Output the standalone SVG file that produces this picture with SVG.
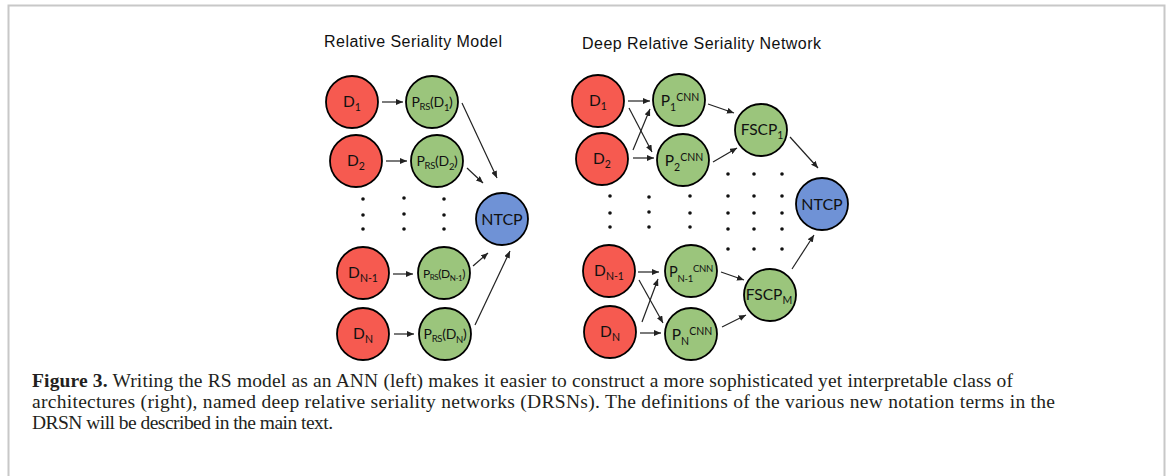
<svg xmlns="http://www.w3.org/2000/svg" width="1168" height="476" viewBox="0 0 1168 476">
<style>
  .frame{stroke:#c8c8c8;stroke-width:2;fill:none}
  .title{font-family:"Liberation Sans",Arial,sans-serif;font-size:16px;fill:#111}
  .node{stroke:#000;stroke-width:1.8}
  .red{fill:#f65a50}
  .green{fill:#9bc57c}
  .blue{fill:#6f92d6}
  .lbl{font-family:Lato,"Open Sans",sans-serif;font-size:15.5px;fill:#111;text-anchor:middle}
  .p{font-size:14px;letter-spacing:-0.3px}
  .s{font-size:10.5px}
  .ss{font-size:9.5px}
  .conn line{stroke:#222;stroke-width:1.2;marker-end:url(#ah)}
  .dot{fill:#111}
  .cap{font-family:"Liberation Serif","Times New Roman",serif;font-size:19.5px;fill:#231f20}
</style>
<defs>
  <marker id="ah" markerUnits="userSpaceOnUse" markerWidth="7" markerHeight="6" refX="7" refY="3" orient="auto">
    <path d="M0,0 L7,3 L0,6 z" fill="#222"/>
  </marker>
</defs>
<rect width="1168" height="476" fill="#fff"/>
<path class="frame" d="M8.5,476 V5.5 H1164.5 V476"/>

<text class="title" x="324" y="47" textLength="178" lengthAdjust="spacing">Relative Seriality Model</text>
<text class="title" x="582" y="49" textLength="239" lengthAdjust="spacing">Deep Relative Seriality Network</text>

<!-- Left panel -->
<g id="L_D1"><circle class="node red" cx="352" cy="102" r="26"/><text class="lbl" x="352" y="107"><tspan>D</tspan><tspan class="s" dy="4">1</tspan></text></g>
<g id="L_D2"><circle class="node red" cx="356" cy="161" r="26"/><text class="lbl" x="356" y="166"><tspan>D</tspan><tspan class="s" dy="4">2</tspan></text></g>
<g id="L_DN1"><circle class="node red" cx="363" cy="273" r="26"/><text class="lbl" x="363" y="278"><tspan>D</tspan><tspan class="s" dy="4">N-1</tspan></text></g>
<g id="L_DN"><circle class="node red" cx="363" cy="334" r="26"/><text class="lbl" x="363" y="339"><tspan>D</tspan><tspan class="s" dy="4">N</tspan></text></g>

<g id="L_P1"><circle class="node green" cx="432" cy="102" r="26"/><text class="lbl p" x="432" y="107"><tspan>P</tspan><tspan class="ss" dy="3">RS</tspan><tspan dy="-3">(D</tspan><tspan class="ss" dy="4">1</tspan><tspan dy="-4">)</tspan></text></g>
<g id="L_P2"><circle class="node green" cx="437" cy="161" r="26"/><text class="lbl p" x="437" y="166"><tspan>P</tspan><tspan class="ss" dy="3">RS</tspan><tspan dy="-3">(D</tspan><tspan class="ss" dy="4">2</tspan><tspan dy="-4">)</tspan></text></g>
<g id="L_PN1"><circle class="node green" cx="444" cy="273" r="26"/><text class="lbl p" x="444" y="278" style="font-size:12px;letter-spacing:-0.4px"><tspan>P</tspan><tspan dy="2" style="font-size:8px">RS</tspan><tspan dy="-2">(D</tspan><tspan dy="3" style="font-size:8px">N-1</tspan><tspan dy="-3">)</tspan></text></g>
<g id="L_PN"><circle class="node green" cx="445" cy="334" r="26"/><text class="lbl p" x="445" y="339"><tspan>P</tspan><tspan class="ss" dy="3">RS</tspan><tspan dy="-3">(D</tspan><tspan class="ss" dy="4">N</tspan><tspan dy="-4">)</tspan></text></g>

<g id="L_NTCP"><circle class="node blue" cx="502" cy="219" r="26"/><text class="lbl" x="502" y="225" style="font-size:16px">NTCP</text></g>

<g id="L_dots">
  <circle class="dot" cx="363" cy="199" r="1.8"/><circle class="dot" cx="363" cy="215" r="1.8"/><circle class="dot" cx="363" cy="229" r="1.8"/>
  <circle class="dot" cx="404" cy="198" r="1.8"/><circle class="dot" cx="404" cy="214" r="1.8"/><circle class="dot" cx="404" cy="229" r="1.8"/>
  <circle class="dot" cx="444" cy="199" r="1.8"/><circle class="dot" cx="444" cy="215" r="1.8"/><circle class="dot" cx="444" cy="229" r="1.8"/>
</g>

<!-- Right panel -->
<g id="R_D1"><circle class="node red" cx="598" cy="101" r="26"/><text class="lbl" x="598" y="106"><tspan>D</tspan><tspan class="s" dy="4">1</tspan></text></g>
<g id="R_D2"><circle class="node red" cx="602" cy="159" r="26"/><text class="lbl" x="602" y="164"><tspan>D</tspan><tspan class="s" dy="4">2</tspan></text></g>
<g id="R_DN1"><circle class="node red" cx="609" cy="271" r="26"/><text class="lbl" x="609" y="276"><tspan>D</tspan><tspan class="s" dy="4">N-1</tspan></text></g>
<g id="R_DN"><circle class="node red" cx="610" cy="332" r="26"/><text class="lbl" x="610" y="337"><tspan>D</tspan><tspan class="s" dy="4">N</tspan></text></g>

<g id="R_P1"><circle class="node green" cx="679" cy="100" r="26"/><text class="lbl" x="680" y="106"><tspan>P</tspan><tspan class="s" dy="5">1</tspan><tspan class="s" dy="-10">CNN</tspan></text></g>
<g id="R_P2"><circle class="node green" cx="683" cy="160" r="26"/><text class="lbl" x="684" y="166"><tspan>P</tspan><tspan class="s" dy="5">2</tspan><tspan class="s" dy="-10">CNN</tspan></text></g>
<g id="R_PN1"><circle class="node green" cx="691" cy="271" r="26"/><text class="lbl" x="691" y="277" style="font-size:14.5px;letter-spacing:-0.3px"><tspan>P</tspan><tspan dy="5" style="font-size:9.5px">N-1</tspan><tspan dy="-10" style="font-size:9.5px">CNN</tspan></text></g>
<g id="R_PN"><circle class="node green" cx="691" cy="334" r="26"/><text class="lbl" x="692" y="340"><tspan>P</tspan><tspan class="s" dy="5">N</tspan><tspan class="s" dy="-10">CNN</tspan></text></g>

<g id="R_FSCP1"><circle class="node green" cx="761" cy="130" r="26"/><text class="lbl" x="762" y="135"><tspan>FSCP</tspan><tspan class="s" dy="4">1</tspan></text></g>
<g id="R_FSCPM"><circle class="node green" cx="770" cy="295" r="26"/><text class="lbl" x="769" y="300"><tspan>FSCP</tspan><tspan class="s" dy="4">M</tspan></text></g>

<g id="R_NTCP"><circle class="node blue" cx="822" cy="204" r="26"/><text class="lbl" x="822" y="210" style="font-size:16px">NTCP</text></g>

<g id="R_dots">
  <circle class="dot" cx="610" cy="196" r="1.8"/><circle class="dot" cx="610" cy="213" r="1.8"/><circle class="dot" cx="610" cy="227" r="1.8"/>
  <circle class="dot" cx="649" cy="197" r="1.8"/><circle class="dot" cx="649" cy="212" r="1.8"/><circle class="dot" cx="649" cy="227" r="1.8"/>
  <circle class="dot" cx="690" cy="196" r="1.8"/><circle class="dot" cx="690" cy="213" r="1.8"/><circle class="dot" cx="690" cy="227" r="1.8"/>
  <circle class="dot" cx="728" cy="174" r="1.8"/><circle class="dot" cx="754" cy="174" r="1.8"/><circle class="dot" cx="782" cy="174" r="1.8"/>
  <circle class="dot" cx="728" cy="196" r="1.8"/><circle class="dot" cx="754" cy="196" r="1.8"/><circle class="dot" cx="782" cy="196" r="1.8"/>
  <circle class="dot" cx="728" cy="213" r="1.8"/><circle class="dot" cx="754" cy="213" r="1.8"/><circle class="dot" cx="782" cy="213" r="1.8"/>
  <circle class="dot" cx="728" cy="229" r="1.8"/><circle class="dot" cx="754" cy="229" r="1.8"/><circle class="dot" cx="782" cy="229" r="1.8"/>
  <circle class="dot" cx="728" cy="249" r="1.8"/><circle class="dot" cx="754" cy="249" r="1.8"/><circle class="dot" cx="782" cy="249" r="1.8"/>
</g>

<g id="connectors" class="conn">
  <line x1="382" y1="102" x2="403" y2="102"/>
  <line x1="386" y1="161" x2="407" y2="161"/>
  <line x1="393" y1="274" x2="413" y2="274"/>
  <line x1="394" y1="334" x2="414" y2="334"/>
  <line x1="462" y1="103" x2="497" y2="178"/>
  <line x1="467" y1="168" x2="483" y2="183"/>
  <line x1="473" y1="266" x2="488" y2="253"/>
  <line x1="475" y1="325" x2="510" y2="251"/>

  <line x1="628" y1="101" x2="650" y2="101"/>
  <line x1="629" y1="108" x2="652" y2="152"/>
  <line x1="633" y1="150" x2="650" y2="109"/>
  <line x1="633" y1="158" x2="654" y2="158"/>
  <line x1="708" y1="104" x2="734" y2="113"/>
  <line x1="713" y1="162" x2="737" y2="148"/>
  <line x1="790" y1="137" x2="818" y2="168"/>

  <line x1="638" y1="272" x2="659" y2="272"/>
  <line x1="639" y1="280" x2="663" y2="323"/>
  <line x1="642" y1="322" x2="658" y2="279"/>
  <line x1="640" y1="333" x2="661" y2="333"/>
  <line x1="721" y1="272" x2="744" y2="280"/>
  <line x1="722" y1="327" x2="746" y2="315"/>
  <line x1="792" y1="269" x2="814" y2="235"/>
</g>

<text class="cap" x="32" y="387" textLength="981" lengthAdjust="spacing"><tspan font-weight="bold">Figure 3.</tspan> Writing the RS model as an ANN (left) makes it easier to construct a more sophisticated yet interpretable class of</text>
<text class="cap" x="32" y="408" textLength="1023" lengthAdjust="spacing">architectures (right), named deep relative seriality networks (DRSNs). The definitions of the various new notation terms in the</text>
<text class="cap" x="32" y="429" textLength="301" lengthAdjust="spacing">DRSN will be described in the main text.</text>
</svg>
